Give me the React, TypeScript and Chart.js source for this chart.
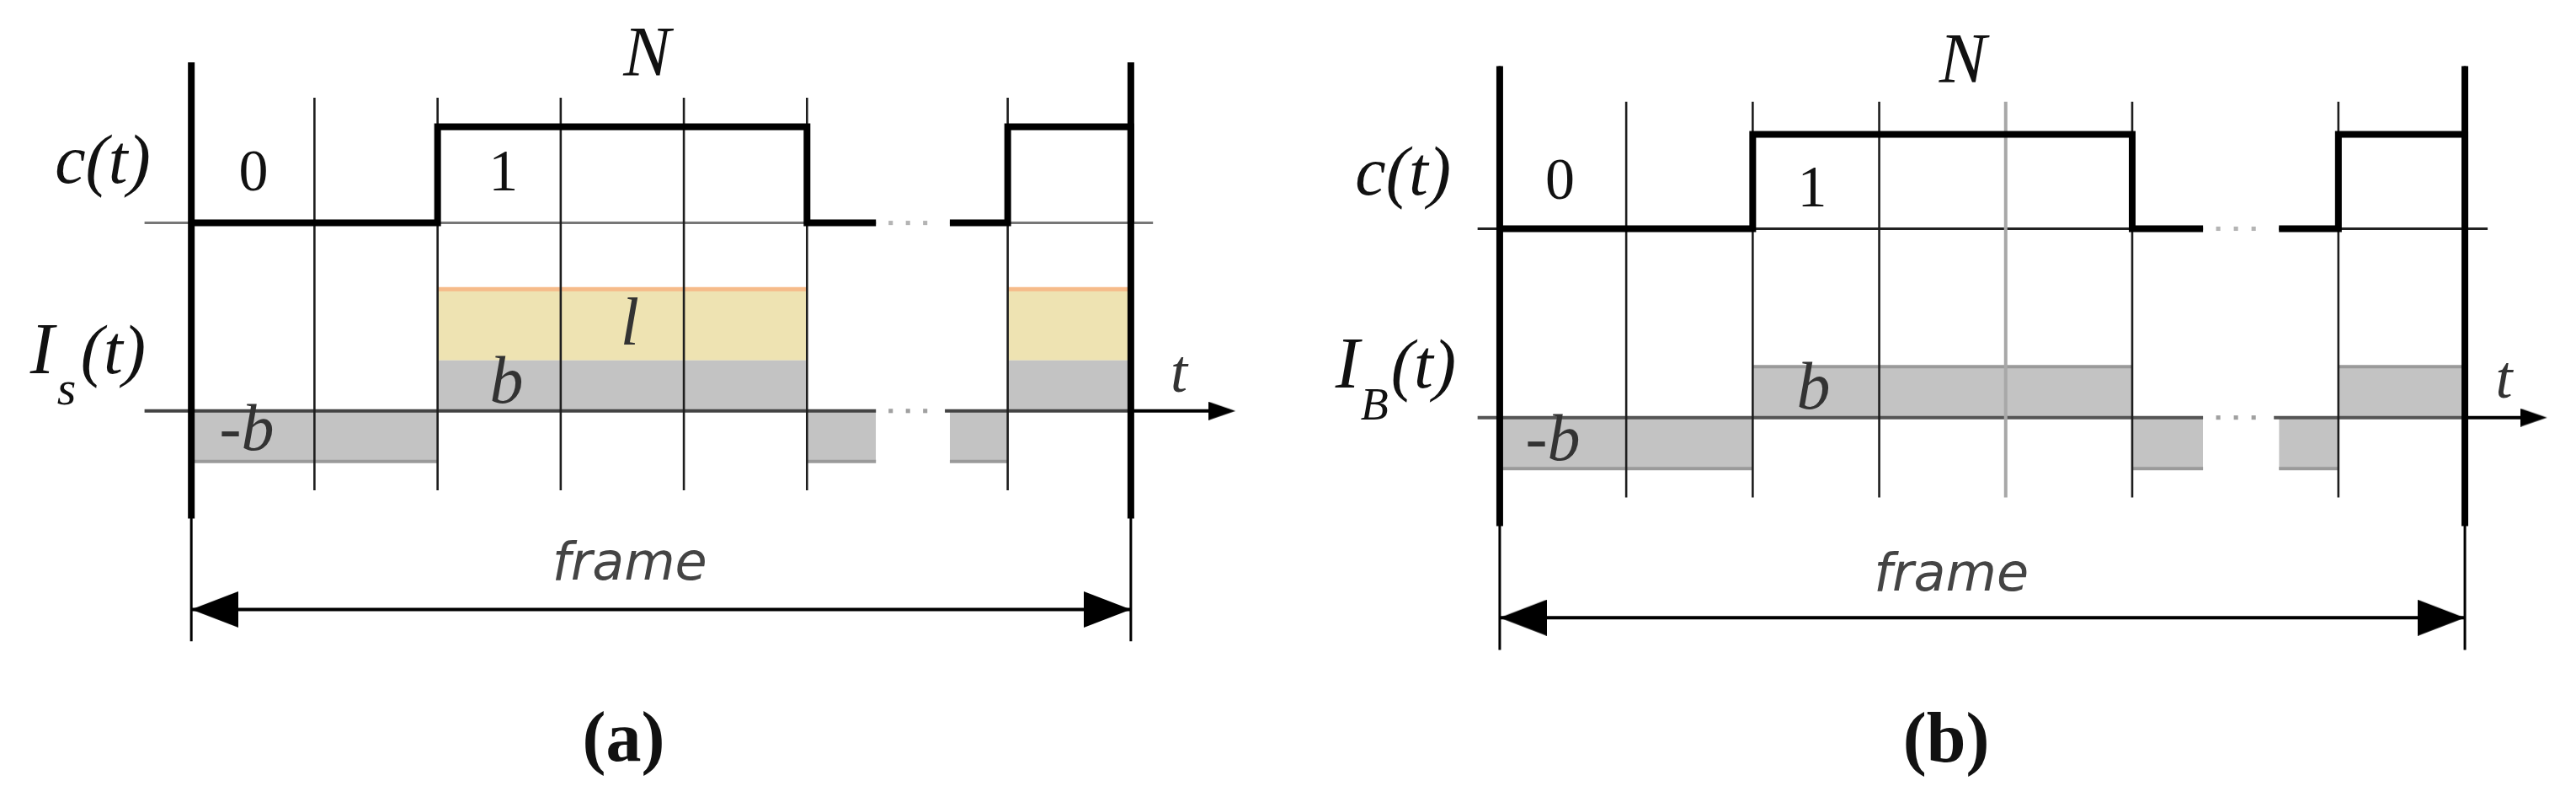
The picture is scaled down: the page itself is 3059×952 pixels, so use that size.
import React, { useEffect, useRef } from 'react';
import { Chart, registerables } from 'chart.js';

Chart.register(...registerables);

// ---------------- data (chip units on x, b-units on I(t), 0/1 on c(t)) ----------------
const runEdgesFirst = [0, 2, 5, 5.56]; // chip boundaries of the first visible run
const runBitsFirst = [0, 1, 0]; // c(t) on each interval of the first run
const runEdgesLast = [6.16, 6.63, 7.63]; // chip boundaries of the run after the ellipsis
const runBitsLast = [0, 1];
const chipLines = [1, 2, 3, 4, 5, 6.63]; // thin chip boundaries
const frameEdges = [0, 7.63]; // start / end of the frame
const ellipsisX = [5.68, 5.82, 5.96]; // the "..." marks
const bLevel = 1; // amplitude b
const lLevel = 1.41; // extra amplitude l (panel a)
const ellipsisGap = [5.56, 6.12]; // where axes break

// ---------------- geometry (styles / layout only) ----------------
const H = 952;
const GEOM = {
  frameTop: 6.9,
  frameThickBottom: -2.13,
  frameBottom: -4.56,
  gridTop: 6.2,
  gridBottom: -1.57,
  frameArrowY: -3.93,
  cAxisEnd: 7.81,
};

const SERIF = '"Liberation Serif", "DejaVu Serif", serif';
const it = (s: number) => `italic ${s}px ${SERIF}`;
const up = (s: number) => `${s}px ${SERIF}`;
const bold = (s: number) => `bold ${s}px ${SERIF}`;
const SANS_OBL = `oblique 62px "DejaVu Sans", sans-serif`;
const DARK = '#111';
const MID = '#333';

type Part = { text: string; font: string; ox?: number; oy?: number };
type Label = { x: number; y: number; axis?: string; align?: CanvasTextAlign; color?: string; parts: Part[] };

const PANELS = [
  {
    left: 0,
    width: 1530,
    x0: 221.5,
    ux: 147.77,
    iAxis: 488,
    ui: 61,
    cAxis: 261,
    uc: 116,
    axisStart: -0.38,
    arrowTip: 8.48,
    cAxisColor: '#777',
    iAxisColor: '#444',
    withL: true,
    topBorder: false,
    fadedLine: -1,
    labels: [
      { x: 3.7, y: 6.64, parts: [{ text: 'N', font: it(84) }] },
      { x: 0.504, y: 4.36, parts: [{ text: '0', font: up(70) }] },
      { x: 2.535, y: 4.36, parts: [{ text: '1', font: up(70) }] },
      { x: 3.56, y: 1.31, color: MID, parts: [{ text: 'l', font: it(80) }] },
      { x: 2.56, y: 0.16, color: MID, parts: [{ text: 'b', font: it(80) }] },
      { x: 0.45, y: -0.77, color: MID, parts: [{ text: '-b', font: it(78) }] },
      { x: 8.02, y: 0.38, color: MID, parts: [{ text: 't', font: it(72) }] },
      { x: 3.56, y: -3.34, color: '#444', parts: [{ text: 'frame', font: SANS_OBL }] },
      { x: 3.51, y: -6.93, parts: [{ text: '(a)', font: bold(84) }] },
      { x: -0.33, y: 4.51, align: 'right', parts: [{ text: 'c(t)', font: it(82) }] },
      {
        x: -1.31,
        y: 0.74,
        align: 'left',
        parts: [
          { text: 'I', font: it(86) },
          { text: 's', font: it(58), ox: 32, oy: 37 },
          { text: '(t)', font: it(82), ox: 60 },
        ],
      },
    ] as Label[],
  },
  {
    left: 1530,
    width: 1529,
    x0: 245.5,
    ux: 151.8,
    iAxis: 496,
    ui: 61.5,
    cAxis: 268,
    uc: 114,
    axisStart: -0.175,
    arrowTip: 8.28,
    cAxisColor: '#222',
    iAxisColor: '#555',
    withL: false,
    topBorder: true,
    fadedLine: 4,
    labels: [
      { x: 3.66, y: 6.57, parts: [{ text: 'N', font: it(84) }] },
      { x: 0.476, y: 4.3, parts: [{ text: '0', font: up(70) }] },
      { x: 2.47, y: 4.15, parts: [{ text: '1', font: up(70) }] },
      { x: 2.48, y: 0.18, color: MID, parts: [{ text: 'b', font: it(80) }] },
      { x: 0.42, y: -0.83, color: MID, parts: [{ text: '-b', font: it(78) }] },
      { x: 7.94, y: 0.39, color: MID, parts: [{ text: 't', font: it(72) }] },
      { x: 3.57, y: -3.4, color: '#444', parts: [{ text: 'frame', font: SANS_OBL }] },
      { x: 3.53, y: -6.75, parts: [{ text: '(b)', font: bold(84) }] },
      { x: -0.385, y: 4.37, align: 'right', parts: [{ text: 'c(t)', font: it(82) }] },
      {
        x: -1.3,
        y: 0.585,
        align: 'left',
        parts: [
          { text: 'I', font: it(86) },
          { text: 'B', font: it(54), ox: 30, oy: 38 },
          { text: '(t)', font: it(82), ox: 66 },
        ],
      },
    ] as Label[],
  },
];

function makeHead(len: number, half: number) {
  const c = document.createElement('canvas');
  c.width = 2 * len;
  c.height = 2 * half;
  const g = c.getContext('2d')!;
  g.fillStyle = '#000';
  g.beginPath();
  g.moveTo(len, half);
  g.lineTo(0, 0);
  g.lineTo(0, 2 * half);
  g.closePath();
  g.fill();
  return c;
}

function buildChart(canvas: HTMLCanvasElement, p: (typeof PANELS)[number]) {
  const ds: any[] = [];
  const add = (data: any[], extra: any) =>
    ds.push({
      type: 'line',
      data,
      yAxisID: 'yI',
      pointRadius: 0,
      borderWidth: 3,
      borderColor: '#000',
      backgroundColor: 'rgba(0,0,0,0)',
      fill: false,
      tension: 0,
      borderCapStyle: 'butt',
      borderJoinStyle: 'miter',
      ...extra,
    });

  const runs = [
    { edges: runEdgesFirst, bits: runBitsFirst },
    { edges: runEdgesLast, bits: runBitsLast },
  ];

  // yellow l area (panel a)
  if (p.withL) {
    runs.forEach((r) =>
      r.bits.forEach((bit, i) => {
        if (bit !== 1) return;
        add(
          [
            { x: r.edges[i], y: bLevel + lLevel },
            { x: r.edges[i + 1], y: bLevel + lLevel },
          ],
          { fill: { value: bLevel }, backgroundColor: '#eee3b2', borderColor: '#f6bb8a', borderWidth: 5, order: 100 }
        );
      })
    );
  }

  // gray I(t) = +/- b
  runs.forEach((r) => {
    const pts: any[] = [];
    r.bits.forEach((bit, i) => {
      const v = bit ? bLevel : -bLevel;
      pts.push({ x: r.edges[i], y: v }, { x: r.edges[i + 1], y: v });
    });
    add(pts, {
      fill: 'origin',
      backgroundColor: '#c3c3c3',
      borderWidth: 4,
      order: 90,
      segment: {
        borderColor: (c: any) => {
          const a = c.p0.parsed,
            b = c.p1.parsed;
          if (a.y !== b.y) return 'rgba(0,0,0,0)';
          if (a.y < 0 || p.topBorder) return '#9a9a9a';
          return 'rgba(0,0,0,0)';
        },
      },
    });
  });

  // c(t) axis
  add(
    [
      { x: p.axisStart, y: 0 },
      { x: ellipsisGap[0], y: 0 },
      { x: ellipsisGap[0] + 0.01, y: null },
      { x: runEdgesLast[0], y: 0 },
      { x: GEOM.cAxisEnd, y: 0 },
    ],
    { yAxisID: 'yC', borderColor: p.cAxisColor, borderWidth: 3, order: 80 }
  );
  // I(t) axis
  add(
    [
      { x: p.axisStart, y: 0 },
      { x: ellipsisGap[0], y: 0 },
      { x: ellipsisGap[0] + 0.01, y: null },
      { x: ellipsisGap[1], y: 0 },
      { x: frameEdges[1], y: 0 },
    ],
    { borderColor: p.iAxisColor, borderWidth: 4, order: 80 }
  );
  add(
    [
      { x: frameEdges[1], y: 0 },
      { x: p.arrowTip - 0.05, y: 0 },
    ],
    { borderColor: '#000', borderWidth: 4, order: 79 }
  );

  // chip grid lines
  chipLines.forEach((x) => {
    const faded = x === p.fadedLine;
    add(
      [
        { x, y: GEOM.gridTop },
        { x, y: GEOM.gridBottom },
      ],
      { borderColor: faded ? '#a8a8a8' : '#1e1e1e', borderWidth: faded ? 4 : 2.6, order: 70 }
    );
  });

  // ellipsis dots
  add(
    ellipsisX.map((x) => ({ x, y: 0 })),
    {
      yAxisID: 'yC',
      showLine: false,
      pointStyle: 'rect',
      pointRadius: 3.6,
      pointBorderWidth: 0,
      pointBackgroundColor: '#b4b4b4',
      order: 65,
    }
  );
  add(
    ellipsisX.map((x) => ({ x, y: 0 })),
    {
      showLine: false,
      pointStyle: 'rect',
      pointRadius: 3.6,
      pointBorderWidth: 0,
      pointBackgroundColor: '#a0a0a0',
      order: 65,
    }
  );

  // c(t) signal
  runs.forEach((r, ri) => {
    const pts: any[] = [];
    r.bits.forEach((bit, i) => {
      pts.push({ x: r.edges[i], y: bit }, { x: r.edges[i + 1], y: bit });
    });
    if (ri === runs.length - 1 && r.bits[r.bits.length - 1] === 1) pts.push({ x: r.edges[r.edges.length - 1], y: 0 });
    add(pts, { yAxisID: 'yC', borderColor: '#000', borderWidth: 8, order: 60 });
  });

  // frame lines
  frameEdges.forEach((x) => {
    add(
      [
        { x, y: GEOM.frameTop },
        { x, y: GEOM.frameBottom },
      ],
      { borderColor: '#000', borderWidth: 3, order: 50 }
    );
    add(
      [
        { x, y: GEOM.frameTop },
        { x, y: GEOM.frameThickBottom },
      ],
      { borderColor: '#000', borderWidth: 8, order: 49 }
    );
  });
  add(
    [
      { x: frameEdges[0], y: GEOM.frameArrowY },
      { x: frameEdges[1], y: GEOM.frameArrowY },
    ],
    { borderColor: '#000', borderWidth: 4, order: 50 }
  );

  // arrowheads
  const bigHead = makeHead(56, 21.5);
  const smallHead = makeHead(32, 11);
  add([{ x: frameEdges[0], y: GEOM.frameArrowY }], {
    showLine: false,
    pointStyle: bigHead,
    pointRadius: 5,
    pointRotation: 180,
    order: 40,
  });
  add([{ x: frameEdges[1], y: GEOM.frameArrowY }], {
    showLine: false,
    pointStyle: bigHead,
    pointRadius: 5,
    pointRotation: 0,
    order: 40,
  });
  add([{ x: p.arrowTip, y: 0 }], {
    showLine: false,
    pointStyle: smallHead,
    pointRadius: 5,
    pointRotation: 0,
    order: 40,
  });

  const labelPlugin = {
    id: 'diagramLabels',
    afterDatasetsDraw(chart: any) {
      const ctx: CanvasRenderingContext2D = chart.ctx;
      const xs = chart.scales.x;
      for (const lab of p.labels) {
        const ys = chart.scales[lab.axis || 'yI'];
        const px = xs.getPixelForValue(lab.x);
        const py = ys.getPixelForValue(lab.y);
        ctx.save();
        ctx.fillStyle = lab.color || DARK;
        ctx.textBaseline = 'alphabetic';
        ctx.textAlign = lab.align || 'center';
        for (const part of lab.parts) {
          ctx.font = part.font;
          ctx.fillText(part.text, px + (part.ox || 0), py + (part.oy || 0));
        }
        ctx.restore();
      }
    },
  };

  return new Chart(canvas, {
    type: 'line',
    data: { datasets: ds },
    options: {
      animation: false,
      responsive: false,
      maintainAspectRatio: false,
      events: [],
      layout: { padding: 0 },
      plugins: { legend: { display: false }, tooltip: { enabled: false }, title: { display: false } },
      scales: {
        x: { type: 'linear', display: false, min: -p.x0 / p.ux, max: (p.width - p.x0) / p.ux },
        yI: { type: 'linear', display: false, min: -(H - p.iAxis) / p.ui, max: p.iAxis / p.ui },
        yC: { type: 'linear', display: false, min: -(H - p.cAxis) / p.uc, max: p.cAxis / p.uc },
      },
    },
    plugins: [labelPlugin],
  } as any);
}

export default function App() {
  const refA = useRef<HTMLCanvasElement>(null);
  const refB = useRef<HTMLCanvasElement>(null);
  useEffect(() => {
    document.body.style.margin = '0';
    const charts = [buildChart(refA.current!, PANELS[0]), buildChart(refB.current!, PANELS[1])];
    return () => charts.forEach((c) => c.destroy());
  }, []);
  return (
    <div style={{ position: 'absolute', left: 0, top: 0, width: 3059, height: H, background: '#fff' }}>
      <canvas
        ref={refA}
        width={PANELS[0].width}
        height={H}
        style={{ position: 'absolute', left: PANELS[0].left, top: 0, width: PANELS[0].width, height: H }}
      />
      <canvas
        ref={refB}
        width={PANELS[1].width}
        height={H}
        style={{ position: 'absolute', left: PANELS[1].left, top: 0, width: PANELS[1].width, height: H }}
      />
    </div>
  );
}
